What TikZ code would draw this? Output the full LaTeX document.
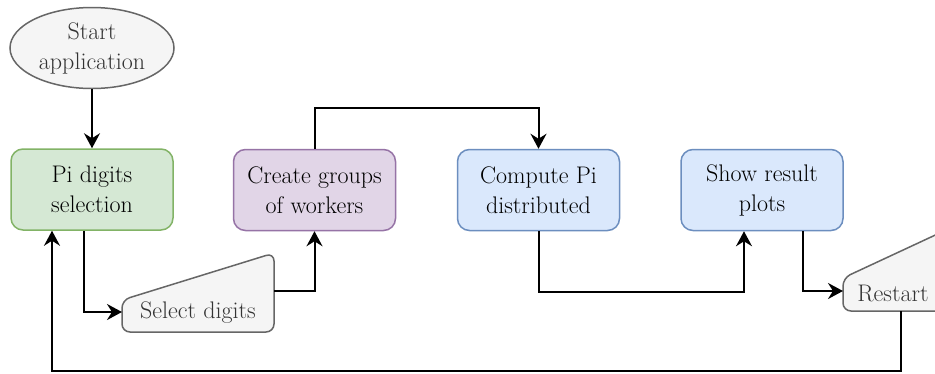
\documentclass[tikz,border=0pt]{standalone}
\usetikzlibrary{arrows.meta,calc,shapes.geometric}

\definecolor{greenfill}{HTML}{D5E8D4}
\definecolor{greenline}{HTML}{82B366}
\definecolor{purplefill}{HTML}{E1D5E7}
\definecolor{purpleline}{HTML}{9673A6}
\definecolor{bluefill}{HTML}{DAE8FC}
\definecolor{blueline}{HTML}{6C8EBF}
\definecolor{grayfill}{HTML}{F5F5F5}
\definecolor{grayline}{HTML}{666666}
\definecolor{graytext}{HTML}{333333}

\tikzset{
  lbl/.style={align=center, inner sep=0pt, font=\rmfamily\fontsize{24}{30}\selectfont},
  stepbox/.style={lbl, rectangle, rounded corners=12pt, line width=1.5pt,
    minimum width=162pt, minimum height=81pt},
  greenbox/.style={stepbox, draw=greenline, fill=greenfill},
  purplebox/.style={stepbox, draw=purpleline, fill=purplefill},
  bluebox/.style={stepbox, draw=blueline, fill=bluefill},
  terminal/.style={lbl, ellipse, draw=grayline, fill=grayfill, line width=1.5pt,
    text=graytext, minimum width=164pt, minimum height=81pt},
  manualin/.style={draw=grayline, fill=grayfill, line width=1.5pt, rounded corners=8pt},
  tip/.tip={Stealth[length=15pt,width=16pt,inset=5pt]},
  flow/.style={line width=2pt, -tip},
}

\begin{document}
\begin{tikzpicture}[x=1pt, y=-1pt]
  \clip (0,0) rectangle (935,373);
  \fill[white] (0,0) rectangle (935,373);

  % start terminal and process steps
  \node[terminal] (start) at (92,48) {Start\\application};
  \node[greenbox] (pi) at (92,189.5) {Pi digits\\selection};
  \node[purplebox] (groups) at (314.5,190) {Create groups\\of workers};
  \node[bluebox] (compute) at (538.5,190) {Compute Pi\\distributed};
  \node[bluebox] (plots) at (762,190) {Show result\\plots};

  % manual input: select digits
  \coordinate (selc) at (198,313);
  \draw[manualin] ($(selc)+(-76,-13)$) -- ($(selc)+(76,-60)$)
    -- ($(selc)+(76,19)$) -- ($(selc)+(-76,19)$) -- cycle;
  \node[lbl, text=graytext] (sel) at (selc) {Select digits};

  % manual input: restart
  \coordinate (rstc) at (893,293);
  \draw[manualin] ($(rstc)+(-50,-15)$) -- ($(rstc)+(66,-69)$)
    -- ($(rstc)+(66,18)$) -- ($(rstc)+(-50,18)$) -- cycle;
  \node[lbl, text=graytext] (rst) at (rstc) {Restart};

  % connectors
  \draw[flow] (start.south) -- (pi.north);
  \draw[flow] ([xshift=-8pt]pi.south) |- ($(selc)+(-76,-1)$);
  \draw[flow] ($(selc)+(76,-22)$) -| (groups.south);
  \draw[flow] (groups.north) |- ($(compute.north)+(0,-41)$) -- (compute.north);
  \draw[flow] (compute.south) |- ($(plots.south)+(-18,61)$) -- ([xshift=-18pt]plots.south);
  \draw[flow] ([xshift=41pt]plots.south) |- ($(rstc)+(-50,-2)$);
  \draw[flow] ($(rstc)+(8,18)$) -- ($(rstc)+(8,78)$) -| ([xshift=-40pt]pi.south);
\end{tikzpicture}
\end{document}
